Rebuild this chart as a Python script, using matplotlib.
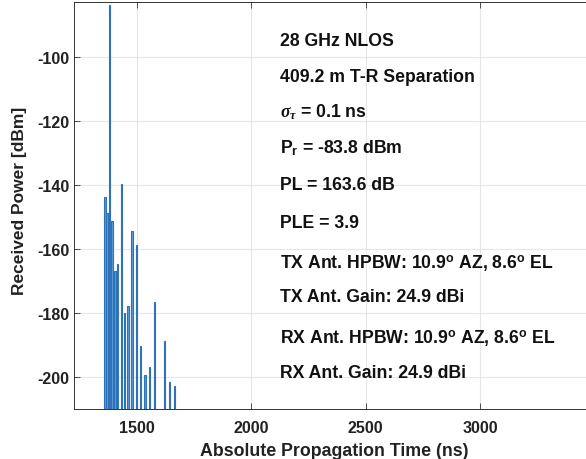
import matplotlib
matplotlib.use("Agg")
import matplotlib.pyplot as plt
import numpy as np

# Data
times_ns = [1360, 1366, 1369, 1381, 1391, 1404, 1416, 1431, 1446, 1461,
            1478, 1497, 1516, 1535, 1556, 1576, 1619, 1643, 1663]
power_dbm = [-143.7, -151.5, -148.8, -83.8, -151.3, -166.8, -164.7, -139.6, -180.0, -177.7,
             -154.4, -158.6, -190.4, -199.4, -196.9, -176.7, -188.8, -201.5, -202.7]
xticks = [1500, 2000, 2500, 3000]
yticks = [-200, -180, -160, -140, -120, -100]
info_lines = [
    "28 GHz NLOS",
    "409.2 m T-R Separation",
    r"$\sigma_{\tau}$ = 0.1 ns",
    r"P$_\mathrm{r}$ = -83.8 dBm",
    "PL = 163.6 dB",
    "PLE = 3.9",
    r"TX Ant. HPBW: 10.9$^\mathrm{o}$ AZ, 8.6$^\mathrm{o}$ EL",
    "TX Ant. Gain: 24.9 dBi",
    r"RX Ant. HPBW: 10.9$^\mathrm{o}$ AZ, 8.6$^\mathrm{o}$ EL",
    "RX Ant. Gain: 24.9 dBi",
]
info_y_px = [42, 77, 112, 148, 186, 224, 264, 298, 339, 374]

plt.rcParams['font.family'] = ['Liberation Sans', 'DejaVu Sans']
plt.rcParams['font.weight'] = 'bold'
plt.rcParams['axes.unicode_minus'] = False
plt.rcParams['mathtext.fontset'] = 'custom'
plt.rcParams['mathtext.rm'] = 'Liberation Sans:bold'
plt.rcParams['mathtext.it'] = 'Liberation Serif:italic'
plt.rcParams['mathtext.bf'] = 'Liberation Sans:bold'

W, H = 586, 460
fig = plt.figure(figsize=(W / 100, H / 100), dpi=100)
x_left, x_right_px = 74, 594.3
y_top, y_bot = 3, 410
ax = fig.add_axes([x_left / W, 1 - y_bot / H, (x_right_px - x_left) / W, (y_bot - y_top) / H])

base = -210
ax.bar(times_ns, np.array(power_dbm) - base, bottom=base, width=5.5,
       facecolor='#5b9bd5', edgecolor='#2f72b8', linewidth=0.8, zorder=3)

ax.set_xlim(1224.4, 3500)
ax.set_ylim(base, -82.8)
ax.set_xticks(xticks)
ax.set_yticks(yticks)
ax.grid(True, color='#e6e6e6', linewidth=0.8, zorder=0)
ax.set_axisbelow(True)
ax.tick_params(direction='in', length=4, width=0.6, colors='#333333', labelsize=11.5,
               top=True, right=True, labelcolor='#222222')
ax.tick_params(axis='x', pad=8)
for lbl in ax.get_xticklabels() + ax.get_yticklabels():
    lbl.set_fontweight('bold')
for s in ax.spines.values():
    s.set_color('#333333')
    s.set_linewidth(0.7)

ax.set_xlabel("Absolute Propagation Time (ns)", fontsize=12.8, fontweight='bold', color='#222222', labelpad=5)
ax.set_ylabel("Received Power [dBm]", fontsize=12.5, fontweight='bold', color='#222222')
ax.yaxis.set_label_coords(-0.090, 0.513)

for txt, ypx in zip(info_lines, info_y_px):
    fig.text(280 / W, 1 - ypx / H, txt, fontsize=12.7, fontweight='bold', color='#111111',
             ha='left', va='center')

fig.savefig("out.png", dpi=100)
